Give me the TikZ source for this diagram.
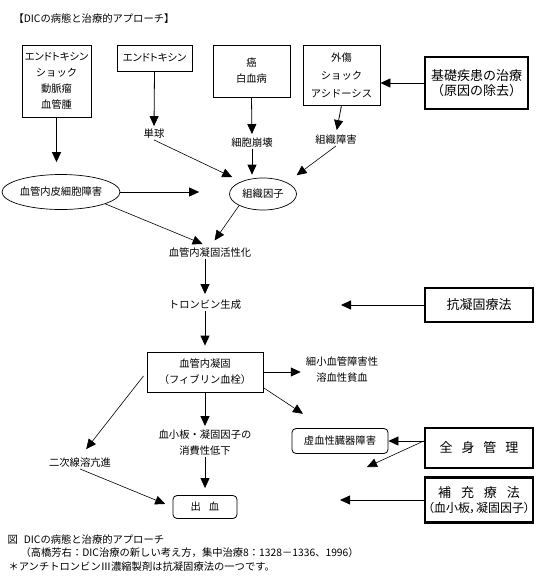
\documentclass[tikz,border=0pt]{standalone}
\usepackage{fontspec}
\setmainfont{Noto Sans CJK JP}
\newfontfamily\kanafont{Noto Sans CJK JP}[RawFeature=+palt]
\usepackage{tikz}
\usetikzlibrary{shapes.geometric, arrows.meta, positioning, calc}

\begin{document}
\begin{tikzpicture}[
  x=1pt, y=-1pt,
  font=\fontsize{10.3}{16}\selectfont,
  box/.style     = {rectangle, draw=black, line width=0.8pt, align=center, inner sep=0pt},
  rbox/.style    = {box, rounded corners=4pt},
  bigbox/.style  = {rectangle, draw=black, line width=2.6pt, align=center, inner sep=0pt,
                    font=\fontsize{13}{15.5}\selectfont},
  oval/.style    = {ellipse, draw=black, line width=0.7pt, inner sep=0pt},
  note/.style    = {align=center, inner sep=1pt},
  arr/.style     = {-{Triangle[length=10pt,width=9pt]}, line width=0.8pt, black},
  slant/.style   = {arr, line width=0.6pt}
]
\useasboundingbox (0,0) rectangle (536,576);

% ── Title ────────────────────────────────────────────────────────────────────
\node[anchor=west] (title) at (10,19) {【DICの病態と治療的アプローチ】};

% ── Row 1: underlying causes ─────────────────────────────────────────────────
\node[box, minimum width=69pt, minimum height=72pt] (causeA) at (56.5,81)
      {{\kanafont エンドトキシン}\\ショック\\動脈瘤\\血管腫};
\node[box, minimum width=75pt, minimum height=26pt] (endo)   at (154.5,58) {{\kanafont エンドトキシン}};
\node[box, minimum width=77pt, minimum height=52pt] (tumor)  at (251.5,71) {癌\\白血病};
\node[box, minimum width=77pt, minimum height=60pt] (trauma) at (341.5,75) {外傷\\[2pt]ショック\\[2pt]アシドーシス};
\node[bigbox, minimum width=103pt, minimum height=52pt] (basal) at (476.5,83)
      {基礎疾患の治療\\（原因の除去）};

% ── Row 2: triggers ──────────────────────────────────────────────────────────
\node[note] (mono)   at (154,134) {単球};
\node[note] (lysis)  at (252,143) {細胞崩壊};
\node[note] (injury) at (336,140) {組織障害};

\node[oval, minimum width=118pt, minimum height=35pt] (endoth) at (61,192) {血管内皮細胞障害};
\node[oval, minimum width=67pt, minimum height=32pt]  (tf)     at (263,194) {組織因子};

% ── Row 3: coagulation cascade ───────────────────────────────────────────────
\node[note] (activ)  at (210,253) {血管内凝固活性化};
\node[note] (thromb) at (205,305) {トロンビン生成};
\node[box, minimum width=116pt, minimum height=40pt] (dic) at (205,372)
      {血管内凝固\\（フィブリン血栓）};
\node[note] (mah)    at (342,370) {細小血管障害性\\溶血性貧血};
\node[rbox, minimum width=96pt, minimum height=25pt] (organ) at (340,441) {虚血性臓器障害};
\node[note] (consum) at (205,443) {血小板・凝固因子の\\消費性低下};
\node[note] (fibrin) at (80,463)  {二次線溶亢進};
\node[rbox, minimum width=64pt, minimum height=23pt] (bleed) at (205,507) {出\hspace{8pt}血};

% ── Therapy boxes ────────────────────────────────────────────────────────────
\node[bigbox, minimum width=108pt, minimum height=34pt] (anticoag) at (479,305) {抗凝固療法};
\node[bigbox, minimum width=108pt, minimum height=40pt] (manage)   at (479,448)
      {全\hspace{9pt}身\hspace{9pt}管\hspace{9pt}理};
\node[bigbox, minimum width=108pt, minimum height=45pt] (supply)   at (479,500)
      {補\hspace{10pt}充\hspace{10pt}療\hspace{10pt}法\\{\kanafont\fontsize{12}{15.5}\selectfont （血小板，凝固因子）}};

\coordinate (acEnd) at (341,305);
\coordinate (mgEnd) at (367,467);
\coordinate (spEnd) at (340,500);

% ── Arrows: causes ───────────────────────────────────────────────────────────
\draw[arr, shorten >=12pt] (causeA.south) -- (causeA.south |- endoth.north);
\draw[arr, shorten >=2pt]  (endo.south)   -- (mono.north);
\draw[arr, shorten >=3pt]  (tumor.south)  -- (lysis.north);
\draw[arr, shorten >=4pt]  (trauma.south) -- (injury.north);
\draw[arr] (basal.west) -- (basal.west -| trauma.east);

% ── Arrows: tissue factor ────────────────────────────────────────────────────
\draw[slant, shorten >=10pt] (mono.south)   -- (tf.150);
\draw[arr,   shorten >=3pt]  (lysis.south)  -- (lysis.south |- tf.north);
\draw[slant, shorten >=12pt] (injury.south) -- (tf.north east);
\draw[arr,   shorten >=30pt] (endoth.east)  -- (endoth.east -| tf.west);

% ── Arrows: cascade ──────────────────────────────────────────────────────────
\draw[slant, shorten >=8pt] (endoth.-15)    -- (activ.north);
\draw[slant, shorten >=8pt] (tf.south west) -- (activ.north);
\draw[arr, shorten >=5pt]   (thromb.north |- activ.south) -- (thromb.north);
\draw[arr] (anticoag.west) -- (acEnd);
\draw[arr, shorten >=6pt]   (thromb.south) -- (dic.north);
\draw[arr, shorten >=4pt]   (dic.east) -- (dic.east -| mah.west);
\draw[slant, shorten >=26pt] (dic.-15) -- (organ.140);
\draw[arr, shorten >=3pt]   (dic.south) -- (consum.north);
\draw[arr, shorten >=7pt]   (consum.south) -- (bleed.north);
\draw[slant, shorten <=5pt, shorten >=10pt] (dic.west) -- (fibrin.north);
\draw[slant, shorten >=8pt] (fibrin.south) -- (bleed.west);

% ── Arrows: therapy ──────────────────────────────────────────────────────────
\draw[arr]   (manage.west |- organ.east) -- (organ.east);
\draw[slant] (manage.west |- organ.east) -- (mgEnd);
\draw[arr]   (supply.west) -- (spEnd);

% ── Caption ──────────────────────────────────────────────────────────────────
\node[anchor=west] (cap1) at (4,540) {図\hspace{6pt}DICの病態と治療的アプローチ};
\node[anchor=west] (cap2) at (17,553) {（高橋芳右：DIC治療の新しい考え方，集中治療8：1328－1336、1996）};
\node[anchor=west] (cap3) at (5,567) {＊アンチトロンビンⅢ濃縮製剤は抗凝固療法の一つです。};
\end{tikzpicture}
\end{document}
